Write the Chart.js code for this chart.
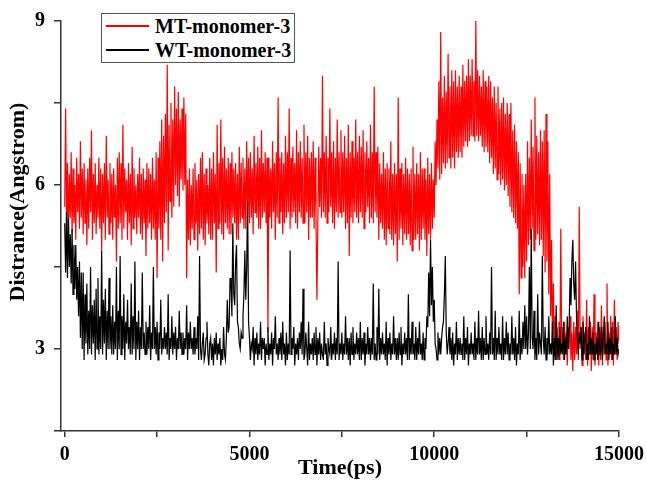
<!DOCTYPE html>
<html><head><meta charset="utf-8">
<script src="https://cdn.jsdelivr.net/npm/chart.js@4.4.0/dist/chart.umd.min.js"></script>
<style>
html,body{margin:0;padding:0;background:#fff;}
#wrap{position:relative;width:646px;height:486px;}
#legend{position:absolute;left:101px;top:13px;width:192px;height:48px;border:1.5px solid #555;background:#fff;font:bold 20px "Liberation Serif",serif;color:#000;}
.row{position:absolute;left:0;height:24px;display:flex;align-items:center;white-space:nowrap;}
.sw{width:43px;height:1.5px;margin-left:4px;margin-right:6px;}
</style></head><body>
<div id="wrap"><canvas id="c" width="646" height="486"></canvas><div id="legend"></div></div>
<script>
// sampling grid of the trajectory (ps)
const startPs = 0;
const stepPs = 25;
const seriesLabels = ["MT-monomer-3", "WT-monomer-3"];
const seriesColors = ["#ff0000", "#000000"];
const xTicks = [0, 2500, 5000, 7500, 10000, 12500, 15000];
const xTickLabels = [0, 5000, 10000, 15000];
const yTicks = [1.5, 3, 4.5, 6, 7.5, 9];
const yTickLabels = [3, 6, 9];
const xTitle = "Time(ps)";
const yTitle = "Distrance(Angstrom)";

// MT-monomer-3 distance (Angstrom), one value every 25 ps
const mtDistance = [
5.6,7.4,5.2,6.4,5.0,6.2,5.4,6.6,5.1,6.3,5.3,6.0,5.0,6.5,5.5,6.2,5.2,6.8,5.4,6.3,
5.1,6.4,5.3,6.1,4.9,6.3,5.2,6.5,5.5,7.0,5.0,6.2,5.3,6.4,5.1,6.0,5.4,6.5,5.2,6.3,
4.8,6.2,5.3,6.4,5.0,6.9,5.4,6.1,5.1,6.4,5.3,6.2,5.0,6.3,5.4,6.0,4.6,6.5,5.2,6.6,
5.3,6.4,5.0,7.1,5.2,6.3,5.5,6.1,5.0,6.4,5.3,6.2,4.9,6.7,5.2,6.3,5.4,6.0,5.1,6.2,
5.4,6.5,5.1,6.2,5.0,6.3,5.3,6.1,4.7,6.4,5.2,6.3,5.3,6.2,5.0,6.5,5.2,6.1,5.0,6.6,
4.3,6.5,5.2,6.8,5.0,7.2,4.6,6.9,5.3,7.3,5.5,8.2,4.8,7.1,5.7,7.5,5.4,7.2,5.6,7.8,
6.0,7.4,5.8,7.7,5.6,7.2,6.1,7.4,5.9,7.6,6.0,7.3,4.3,6.1,5.0,6.3,4.9,6.0,5.2,6.3,
5.0,6.4,5.3,6.1,4.8,6.2,5.1,6.5,5.2,6.6,5.0,6.2,4.9,6.3,5.3,6.0,5.1,6.5,5.0,6.3,
5.0,6.6,5.3,6.2,4.4,7.1,5.2,6.4,5.3,7.2,5.1,6.5,5.0,6.7,5.3,6.3,5.2,6.5,5.1,6.4,
5.1,6.6,5.4,6.3,5.3,6.4,5.0,6.2,5.0,6.7,5.3,6.4,5.4,6.5,5.2,6.3,5.2,6.8,5.4,6.5,
5.3,6.6,5.4,6.3,5.1,6.9,5.5,6.4,5.4,6.7,5.2,6.5,5.2,7.0,5.4,6.4,5.5,6.6,5.3,6.5,
3.3,6.5,5.4,6.3,5.2,6.8,5.5,6.4,5.0,6.6,5.4,7.6,5.3,6.5,5.5,6.6,5.1,6.4,5.3,6.9,
5.4,6.6,5.5,7.4,5.2,6.5,5.4,6.7,5.5,6.4,5.3,7.0,5.2,6.6,5.5,6.8,5.4,6.5,5.3,7.1,
5.3,6.6,5.5,6.9,5.0,6.5,5.4,6.6,5.4,6.8,5.2,6.5,5.4,3.9,5.3,6.7,5.6,6.5,5.4,8.0,
5.5,6.6,5.4,6.9,5.3,6.5,5.5,7.4,5.6,6.6,5.3,6.8,5.2,6.5,5.5,7.2,5.4,6.6,5.5,7.0,
5.4,6.6,5.5,6.9,5.2,6.5,5.3,7.1,4.7,6.6,5.4,6.8,5.3,6.5,5.5,7.2,5.4,6.6,5.3,6.9,
5.5,6.7,5.4,7.0,5.2,6.6,5.5,6.8,5.6,6.5,5.3,7.1,5.4,6.6,5.3,7.8,5.5,6.6,5.4,6.7,
5.0,6.4,5.3,6.2,5.2,6.6,5.0,6.3,4.9,6.4,5.2,6.3,5.1,6.8,5.0,6.2,4.9,6.4,5.1,6.2,
4.6,7.6,5.0,6.3,5.2,6.4,4.9,6.2,5.1,6.5,5.0,6.3,5.1,6.2,4.9,6.3,4.8,6.7,5.0,6.2,
5.0,6.4,5.1,6.2,4.8,6.6,5.0,6.3,5.2,6.3,5.0,6.1,4.7,6.5,5.1,6.2,5.0,6.4,5.2,6.1,
5.4,6.8,6.0,7.2,6.3,7.9,6.1,8.8,6.2,7.6,6.4,8.0,6.3,7.7,6.4,8.4,6.5,7.8,6.3,8.1,
6.5,7.9,6.3,8.1,6.6,7.8,6.5,8.0,6.6,7.8,6.5,8.2,6.7,7.9,6.8,8.0,6.7,8.3,6.8,8.0,
6.9,8.3,6.9,7.9,6.8,9.0,6.9,8.1,6.8,8.0,6.9,7.8,6.7,8.1,6.6,7.9,6.7,7.8,6.6,8.0,
6.4,7.9,6.5,7.6,6.2,7.8,6.3,7.5,6.1,7.8,6.2,7.4,6.0,7.5,6.1,7.6,5.9,7.3,6.0,7.5,
5.8,7.3,5.6,7.5,5.5,7.0,5.4,7.1,5.3,6.8,5.2,6.6,4.0,6.4,4.3,6.2,4.5,6.0,4.3,6.2,
4.6,6.8,4.9,6.5,5.0,7.2,5.2,6.7,4.8,7.6,5.0,6.9,5.1,6.6,4.9,7.0,5.0,6.8,4.7,7.0,
4.4,7.3,4.6,6.8,4.0,6.2,3.6,5.0,3.0,4.2,2.9,3.6,2.8,3.4,3.0,3.5,2.8,5.2,3.0,3.4,
2.8,3.5,2.9,3.3,2.7,3.4,3.0,3.6,2.8,3.3,2.6,3.5,2.8,3.4,2.9,3.7,2.8,5.6,3.0,3.4,
2.7,3.6,2.9,3.3,2.8,3.9,2.7,3.4,2.9,3.5,2.6,3.4,2.8,4.0,2.7,3.3,2.9,3.5,2.7,3.4,
2.8,3.8,2.7,3.4,2.9,3.5,2.8,4.2,2.7,3.3,2.9,3.6,2.8,3.5,2.7,3.9,2.9,3.4,2.8,3.5,
3.1];

// WT-monomer-3 distance (Angstrom), one value every 25 ps
const wtDistance = [
5.3,4.4,5.5,4.3,5.4,4.5,5.1,4.2,5.2,4.0,4.9,4.1,4.9,3.9,4.5,3.6,4.6,3.2,4.4,3.0,
4.4,2.8,4.0,3.1,4.2,2.9,3.7,3.0,4.5,2.9,3.8,3.1,3.9,2.8,4.1,3.0,4.3,2.9,3.6,3.0,
4.8,2.9,3.9,3.1,4.1,2.8,3.7,3.0,4.3,3.0,3.6,2.9,3.8,2.9,3.5,3.0,4.5,2.8,3.7,3.0,
4.7,2.9,3.6,3.0,4.0,2.8,3.5,3.1,3.9,3.0,3.4,2.9,4.2,2.9,3.6,3.0,4.6,2.8,3.5,3.0,
3.7,2.8,3.4,3.0,4.4,3.0,3.3,2.9,3.5,2.9,3.4,3.0,3.8,2.8,3.3,3.0,4.5,3.0,3.4,2.9,
3.5,2.8,3.3,3.0,3.9,2.9,3.2,3.0,3.4,3.0,3.3,2.9,4.0,2.8,3.2,3.0,3.6,2.9,3.3,3.0,
3.4,2.8,3.2,3.0,3.7,3.0,3.3,2.9,3.3,2.9,3.2,3.0,3.8,2.8,3.3,3.0,3.5,3.0,3.2,2.9,
3.4,2.9,3.2,3.0,3.6,2.8,4.7,3.0,2.8,3.1,3.3,2.8,2.9,3.2,3.5,2.9,2.7,3.1,3.2,2.8,
3.1,2.7,3.2,2.9,3.3,2.8,3.1,2.9,3.2,2.7,3.0,2.8,3.4,2.9,2.8,3.2,3.9,3.3,3.4,4.3,
4.2,3.6,5.3,4.0,3.8,4.6,4.9,3.5,3.4,3.1,3.0,3.3,3.2,3.6,4.0,4.8,3.9,4.5,5.7,3.5,
3.2,2.8,3.1,3.0,3.4,2.7,3.2,2.9,3.3,2.8,3.1,2.9,3.5,2.8,3.2,3.0,3.2,2.7,3.1,2.9,
3.4,2.8,3.1,2.9,3.3,2.7,3.2,3.0,3.6,2.9,3.1,2.8,3.2,2.9,3.3,2.8,3.5,2.9,3.1,2.7,
3.3,2.8,3.1,2.9,4.8,2.9,3.2,3.0,3.4,2.7,3.1,2.9,3.2,2.8,3.3,3.0,3.5,2.9,4.1,2.8,
2.9,3.3,3.0,2.7,3.5,2.8,3.1,2.9,3.2,2.8,3.3,2.9,3.4,2.7,3.2,2.9,3.3,2.8,3.1,2.9,
2.8,3.5,2.9,3.1,2.7,3.2,3.0,2.9,3.4,2.8,3.1,2.9,3.3,2.8,3.2,2.9,4.6,2.8,3.1,2.9,
3.3,2.8,3.1,2.9,3.6,2.9,3.2,2.8,3.2,2.7,3.3,2.9,3.4,2.8,3.1,2.9,3.3,2.9,3.2,2.8,
3.5,2.8,3.2,2.9,3.3,2.7,3.1,2.9,3.4,2.9,3.2,2.8,3.2,2.9,4.2,2.8,3.1,2.8,3.4,2.9,
4.1,2.8,3.2,2.9,3.3,2.9,3.1,2.8,3.5,2.7,3.2,2.9,3.3,2.8,3.1,2.9,3.6,2.9,3.2,2.8,
3.2,2.8,3.3,2.9,3.4,2.7,3.1,2.9,3.3,2.9,3.2,2.8,4.0,2.8,3.2,2.9,3.5,2.9,3.1,2.8,
3.4,2.8,3.2,2.9,3.5,2.9,3.1,2.8,3.3,2.8,3.2,3.0,3.6,3.4,4.4,3.6,5.0,3.8,4.5,3.5,
3.9,3.1,3.0,2.8,3.3,2.9,3.2,2.9,3.2,3.4,3.5,4.0,4.7,3.3,2.9,3.1,3.4,2.9,3.2,2.8,
3.3,2.7,3.1,2.9,3.5,2.8,3.2,2.9,3.2,2.9,3.1,2.8,3.6,2.8,3.2,2.9,3.4,2.7,3.1,2.9,
3.3,2.9,3.1,2.8,3.5,2.8,3.2,2.9,3.7,2.9,3.2,2.8,3.4,2.8,3.2,2.9,3.6,2.9,3.1,2.8,
3.3,2.9,4.5,2.9,3.2,2.8,3.7,2.8,3.2,2.9,3.4,2.9,3.1,2.8,3.6,2.8,3.2,2.9,3.5,2.9,
3.3,2.8,3.1,2.9,3.6,2.9,3.2,2.8,3.4,2.7,3.1,2.9,3.7,2.8,3.2,2.9,3.5,3.0,3.8,3.0,
3.6,2.9,3.3,4.5,3.0,5.2,3.2,3.0,3.7,2.8,3.2,2.8,4.0,2.9,3.3,3.1,2.9,4.7,3.2,2.9,
3.4,2.8,3.2,2.9,3.6,2.9,3.1,2.9,3.5,2.7,3.2,2.8,3.8,2.8,3.2,2.8,3.4,2.9,3.1,2.9,
3.5,2.8,3.2,2.9,3.6,3.0,3.4,4.3,3.8,4.6,5.0,4.2,3.9,4.6,3.6,3.2,2.9,3.3,3.1,3.4,
2.8,3.5,2.9,3.2,3.4,2.8,3.1,2.8,3.6,2.9,3.2,2.9,3.3,2.8,3.1,2.9,3.2,2.8,3.5,2.9,
2.9,3.4,2.8,3.2,3.6,2.9,3.1,2.9,3.5,2.8,3.2,2.9,3.4,2.8,3.1,2.9,3.6,2.9,3.2,2.9,
3.0];

const toPoints = arr => arr.map((v, i) => ({ x: startPs + i * stepPs, y: v }));

Chart.defaults.font.family = '"Liberation Serif", serif';
Chart.defaults.color = '#000';

const yTitlePlugin = {
  id: 'yTitlePlugin',
  afterDraw(chart) {
    const ctx = chart.ctx;
    ctx.save();
    ctx.translate(18, 202);
    ctx.rotate(-Math.PI / 2);
    ctx.font = 'bold 22px "Liberation Serif"';
    ctx.fillStyle = '#000';
    ctx.textAlign = 'center';
    ctx.textBaseline = 'middle';
    ctx.fillText(yTitle, 0, 0);
    ctx.restore();
  }
};

const chart = new Chart(document.getElementById('c'), {
  type: 'line',
  data: {
    datasets: [
      { label: seriesLabels[0], data: toPoints(mtDistance), borderColor: seriesColors[0], borderWidth: 1.2, pointRadius: 0, tension: 0, order: 2 },
      { label: seriesLabels[1], data: toPoints(wtDistance), borderColor: seriesColors[1], borderWidth: 1.2, pointRadius: 0, tension: 0, order: 1 }
    ]
  },
  options: {
    responsive: false,
    animation: false,
    devicePixelRatio: 1,
    layout: { padding: { left: 0, right: 27, top: 20, bottom: 0 } },
    plugins: { legend: { display: false }, tooltip: { enabled: false } },
    scales: {
      x: {
        type: 'linear', min: -100, max: 15000,
        afterBuildTicks(s) { s.ticks = xTicks.map(v => ({ value: v })); },
        afterFit(s) { s.height = 55; s.paddingLeft = 0; s.paddingRight = 0; },
        border: { display: true, color: '#333', width: 1.5 },
        grid: { drawOnChartArea: false, drawTicks: true, tickLength: 6, color: '#333', lineWidth: 1.5 },
        ticks: {
          autoSkip: false, maxRotation: 0, minRotation: 0, padding: 6,
          font: { size: 20, weight: 'bold' },
          callback: v => xTickLabels.includes(v) ? String(v) : ''
        },
        title: { display: true, text: xTitle, font: { size: 22, weight: 'bold' }, padding: { top: 0, bottom: 4 } }
      },
      y: {
        min: 1.5, max: 9,
        afterBuildTicks(s) { s.ticks = yTicks.map(v => ({ value: v })); },
        afterFit(s) { s.width = 61; },
        border: { display: true, color: '#333', width: 1.5 },
        grid: { drawOnChartArea: false, drawTicks: true, tickLength: 7, color: '#333', lineWidth: 1.5 },
        ticks: {
          autoSkip: false, padding: 9,
          font: { size: 20, weight: 'bold' },
          callback: v => yTickLabels.includes(v) ? String(v) : ''
        }
      }
    }
  },
  plugins: [yTitlePlugin]
});

// legend built from the datasets
const lg = document.getElementById('legend');
chart.data.datasets.forEach((ds, i) => {
  const row = document.createElement('div');
  row.className = 'row';
  row.style.top = (i * 24) + 'px';
  const sw = document.createElement('span');
  sw.className = 'sw';
  sw.style.background = ds.borderColor;
  const tx = document.createElement('span');
  tx.textContent = ds.label;
  row.appendChild(sw); row.appendChild(tx);
  lg.appendChild(row);
});
</script>
</body></html>
